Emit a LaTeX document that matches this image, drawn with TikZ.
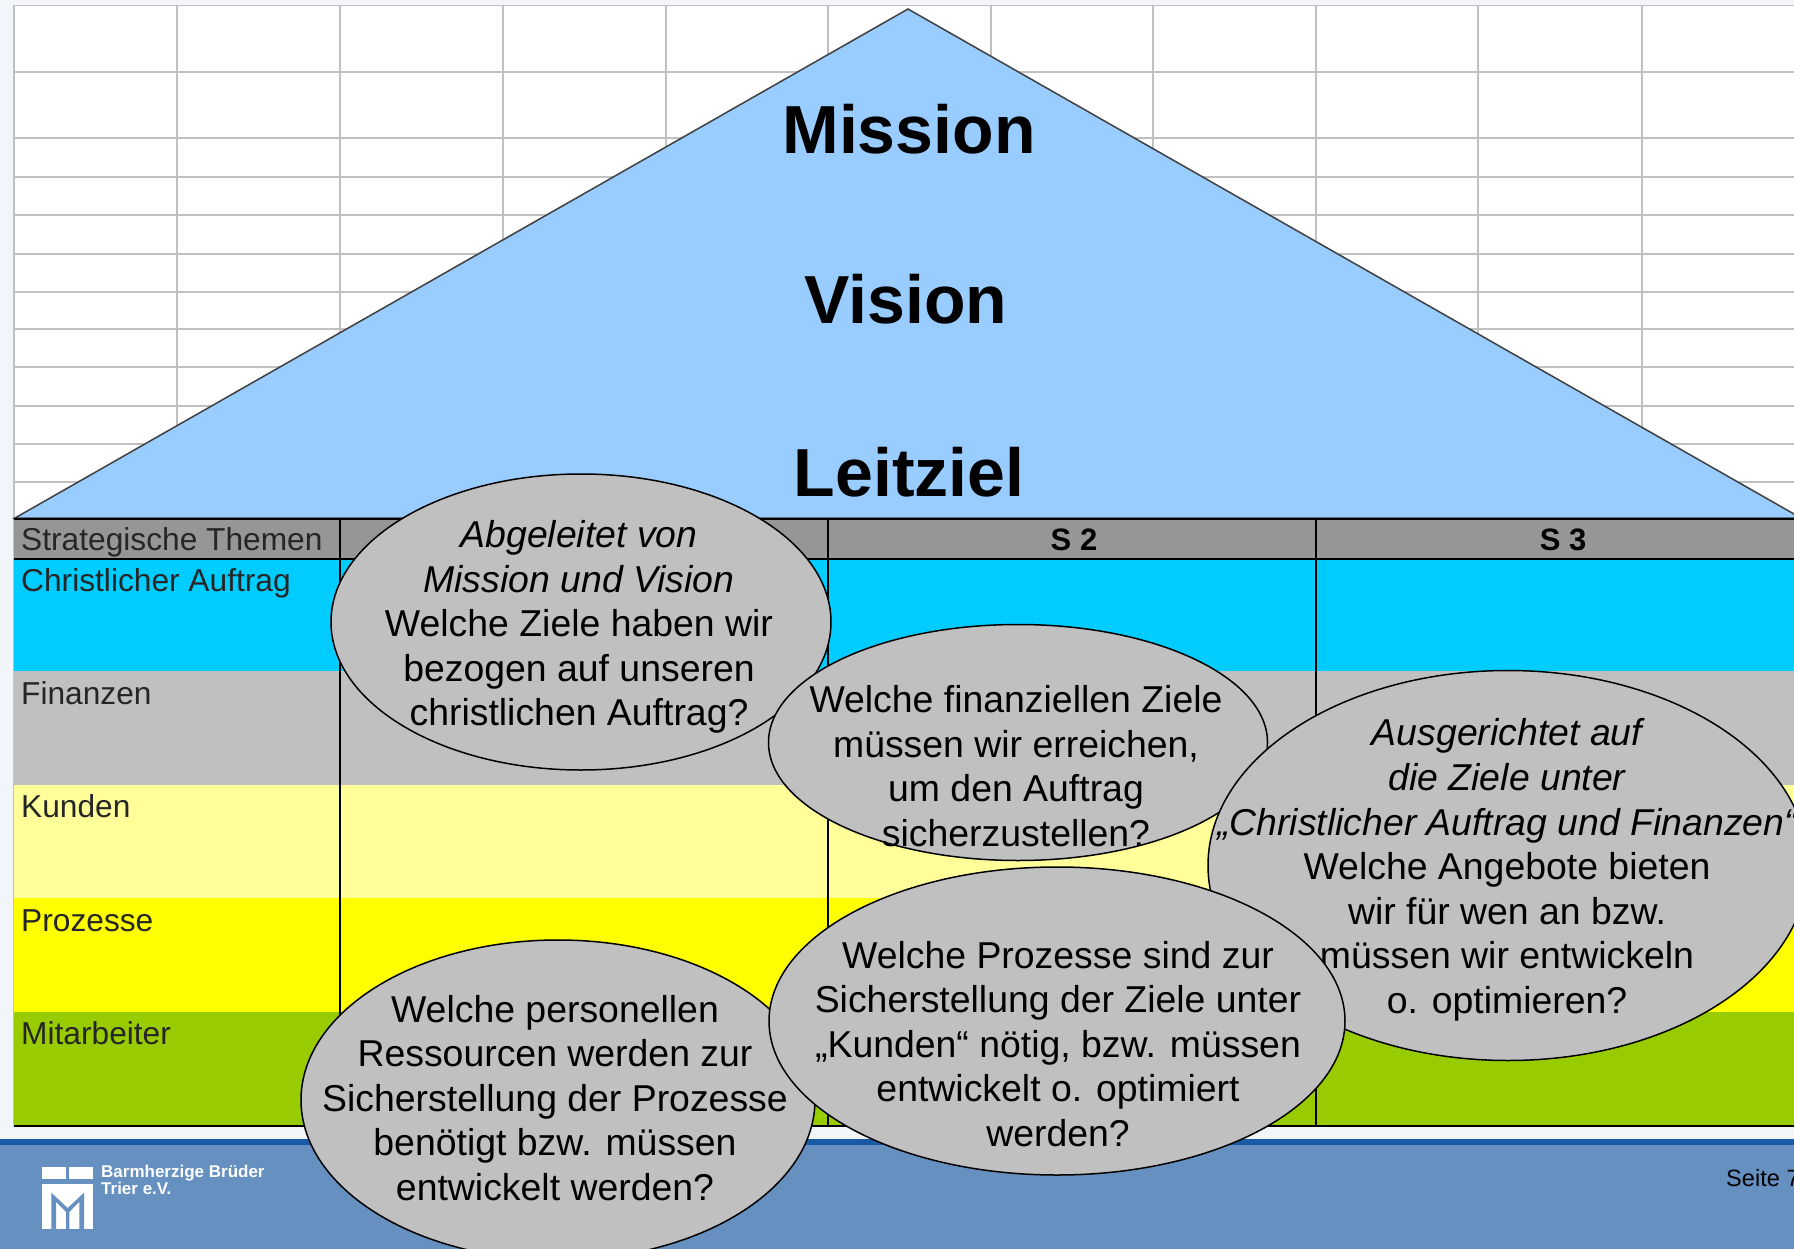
\documentclass[tikz,border=0pt]{standalone}
\usepackage{fontspec}
\setmainfont{Liberation Sans}
\definecolor{pagebg}{RGB}{242,246,251}
\definecolor{gridgray}{RGB}{192,192,192}
\definecolor{roofblue}{RGB}{153,204,255}
\definecolor{headgray}{RGB}{150,150,150}
\definecolor{auftragblue}{RGB}{0,204,255}
\definecolor{finanzgray}{RGB}{192,192,192}
\definecolor{kundenyellow}{RGB}{255,255,153}
\definecolor{prozessyellow}{RGB}{255,255,0}
\definecolor{mitarbgreen}{RGB}{153,204,0}
\definecolor{footblue}{RGB}{101,144,192}
\definecolor{footdark}{RGB}{26,90,165}
\usetikzlibrary{shapes.geometric,positioning}

\begin{document}
\begin{tikzpicture}[
        x=1pt, y=-1pt,
        gridline/.style={gridgray, line width=1.5pt},
        tableline/.style={black, line width=1.5pt},
        rowbox/.style={rectangle, minimum width=1780pt, minimum height=113.5pt, inner sep=0pt, outer sep=0pt},
        rowlabel/.style={anchor=base west, inner sep=0pt, text=black!85, font=\fontsize{31.7}{38}\selectfont},
        headlabel/.style={anchor=base, inner sep=0pt, font=\bfseries\fontsize{31}{37}\selectfont},
        rooflabel/.style={inner sep=0pt, font=\bfseries\fontsize{68}{80}\selectfont},
        bubble/.style={ellipse, draw=black, fill=finanzgray, line width=1.5pt, inner sep=0pt},
        bubbletext/.style={inner sep=0pt, align=center, font=\fontsize{37.4}{44.6}\selectfont}
    ]
        \useasboundingbox (0,0) rectangle (1794,1249);
        \fill[pagebg] (0,0) rectangle (1794,1249);
        \fill[white] (14,5) rectangle (1794,519);

        % sheet grid behind the roof
        \foreach \y in {5.5,72,138,177,215,254,292,329,367,406,444,482}
            \draw[gridline] (14,\y) -- (1794,\y);
        \foreach \x in {14,177,340,503,666,828,991,1153,1316,1478,1642}
            \draw[gridline] (\x,5) -- (\x,519);
        \draw[gridline] (14,519) -- (14,1126);

        \draw[fill=roofblue, draw=black!75, line width=1.5pt] (15,518) -- (908,9) -- (1801,518) -- cycle;
        \node[rooflabel] (mission) at (909,129) {Mission};
        \node[rooflabel] (vision) at (906,299) {Vision};
        \node[rooflabel] (leitziel) at (909,472) {Leitziel};

        \node[rowbox, fill=headgray, minimum height=40pt, anchor=north west] (themen) at (14,519) {};
        \node[rowbox, fill=auftragblue, minimum height=112pt, below=0pt of themen] (auftrag) {};
        \node[rowbox, fill=finanzgray, below=0pt of auftrag] (finanzen) {};
        \node[rowbox, fill=kundenyellow, below=0pt of finanzen] (kunden) {};
        \node[rowbox, fill=prozessyellow, below=0pt of kunden] (prozesse) {};
        \node[rowbox, fill=mitarbgreen, below=0pt of prozesse] (mitarbeiter) {};

        \draw[tableline] (14,519) -- (1794,519);
        \draw[tableline] (14,559) -- (1794,559);
        \draw[tableline] (14,1126) -- (1794,1126);
        \foreach \x in {340,828,1316}
            \draw[tableline] (\x,519) -- (\x,1126);

        \node[rowlabel] (themenlabel) at (21,550) {Strategische Themen};
        \node[rowlabel] (auftraglabel) at (21,591) {Christlicher Auftrag};
        \node[rowlabel] (finanzenlabel) at (21,704) {Finanzen};
        \node[rowlabel] (kundenlabel) at (21,817) {Kunden};
        \node[rowlabel] (prozesselabel) at (21,931) {Prozesse};
        \node[rowlabel] (mitarbeiterlabel) at (21,1044) {Mitarbeiter};
        \node[headlabel] (s2) at (1074,550) {S 2};
        \node[headlabel] (s3) at (1563,550) {S 3};

        % footer
        \fill[footdark] (0,1139) rectangle (1794,1146);
        \fill[footblue] (0,1145) rectangle (1794,1249);
        \fill[white] (42,1167) rectangle (66,1179);
        \fill[white] (69,1167) rectangle (93,1179);
        \fill[white] (42,1184) rectangle (93,1229);
        \fill[footblue] (51.3,1192.7) -- (67.7,1208) -- (84,1192.7) -- (84,1229) -- (79.4,1229) -- (79.4,1201.7) -- (69.3,1212) -- (69.3,1229) -- (66,1229) -- (66,1212) -- (56,1201.7) -- (56,1229) -- (51.3,1229) -- cycle;
        \node[anchor=north west, inner sep=0pt, align=left, text=white, font=\bfseries\fontsize{17}{17}\selectfont] (traeger) at (101,1165) {Barmherzige Brüder\\Trier e.V.};
        \node[anchor=base west, inner sep=0pt, font=\fontsize{23.6}{28}\selectfont] (seite) at (1726,1186) {Seite 7};

        % question bubbles
        \node[bubble, minimum width=500pt, minimum height=296pt] (abgeleitet) at (581,622) {};
        \node[bubbletext] (abgeleitettext) at (579,627) {\itshape Abgeleitet von\\\itshape Mission und Vision\\Welche Ziele haben wir\\bezogen auf unseren\\christlichen Auftrag?};
        \node[bubble, minimum width=514pt, minimum height=320pt] (ressourcen) at (558,1100) {};
        \node[bubbletext] (ressourcentext) at (555,1098) {Welche personellen\\Ressourcen werden zur\\Sicherstellung der Prozesse\\benötigt bzw. müssen\\entwickelt werden?};
        \node[bubble, minimum width=499pt, minimum height=236pt] (finanzziele) at (1018,742.5) {};
        \node[bubbletext] (finanzzieletext) at (1016,766) {Welche finanziellen Ziele\\müssen wir erreichen,\\um den Auftrag\\sicherzustellen?};
        \node[bubble, minimum width=600pt, minimum height=390pt] (angebote) at (1508,865.5) {};
        \node[bubbletext] (angebotetext) at (1507,870) {\itshape Ausgerichtet auf\\\itshape die Ziele unter\\\itshape „Christlicher Auftrag und Finanzen“\\Welche Angebote bieten\\wir für wen an bzw.\\müssen wir entwickeln\\o. optimieren?};
        \node[bubble, minimum width=576pt, minimum height=308pt] (prozessziele) at (1057,1021) {};
        \node[bubbletext] (prozesszieletext) at (1058,1044) {Welche Prozesse sind zur\\Sicherstellung der Ziele unter\\„Kunden“ nötig, bzw. müssen\\entwickelt o. optimiert\\werden?};
    \end{tikzpicture}
\end{document}
